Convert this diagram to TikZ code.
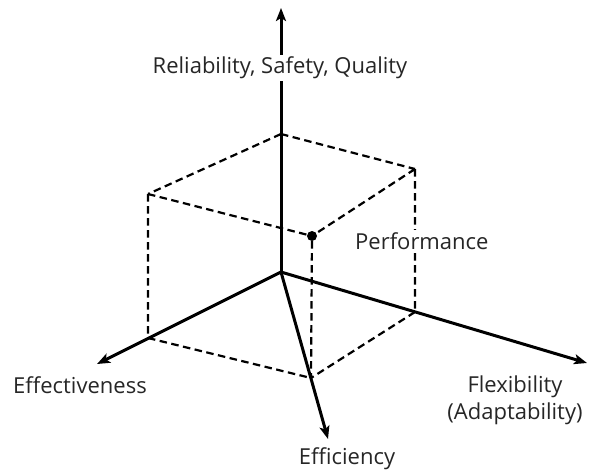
\documentclass[tikz,border=0pt]{standalone}
\usepackage{fontspec}
\setmainfont{Open Sans}
\usetikzlibrary{arrows.meta}
\begin{document}
\begin{tikzpicture}[x=1pt,y=-1pt,
  axis/.style={line width=3pt,-{Stealth[length=13pt,width=10pt,inset=3pt]}},
  edge/.style={line width=2.2pt,dash pattern=on 7.5pt off 4.5pt},
  lbl/.style={font=\fontsize{22}{27}\selectfont,text=black!85,inner sep=2pt},
  hub/.style={circle,fill=black,inner sep=0pt,minimum size=10pt}]
  \useasboundingbox (0,0) rectangle (602,471);
  % axis origin and arrow ends
  \coordinate (o) at (281,272);
  \coordinate (up) at (281,8);
  \coordinate (lf) at (97,364);
  \coordinate (rt) at (587,363);
  \coordinate (dn) at (328,439);
  % corners of the dashed box
  \coordinate (t)  at (281,134);
  \coordinate (tl) at (148,194);
  \coordinate (tr) at (415,169);
  \coordinate (bl) at (148,338);
  \coordinate (br) at (415,312);
  \coordinate (bf) at (311,378);
  \node[hub] (p) at (312,236) {};
  % dashed box edges
  \draw[edge] (t) -- (tl) (t) -- (tr) (tl) -- (p) (tr) -- (p)
              (tl) -- (bl) (tr) -- (br) (p) -- (bf)
              (bl) -- (bf) (br) -- (bf);
  % axes
  \draw[axis] (o) -- (up);
  \draw[axis] (o) -- (lf);
  \draw[axis] (o) -- (rt);
  \draw[axis] (o) -- (dn);
  % labels
  \node[lbl,fill=white] (rsq) at (280,68) {Reliability, Safety, Quality};
  \node[lbl,fill=white,anchor=west] (perf) at (353,241) {Performance};
  \node[lbl] (eff) at (80,385) {Effectiveness};
  \node[lbl,align=center] (flex) at (515,400) {Flexibility\\(Adaptability)};
  \node[lbl] (effc) at (347,459) {Efficiency};
\end{tikzpicture}
\end{document}
